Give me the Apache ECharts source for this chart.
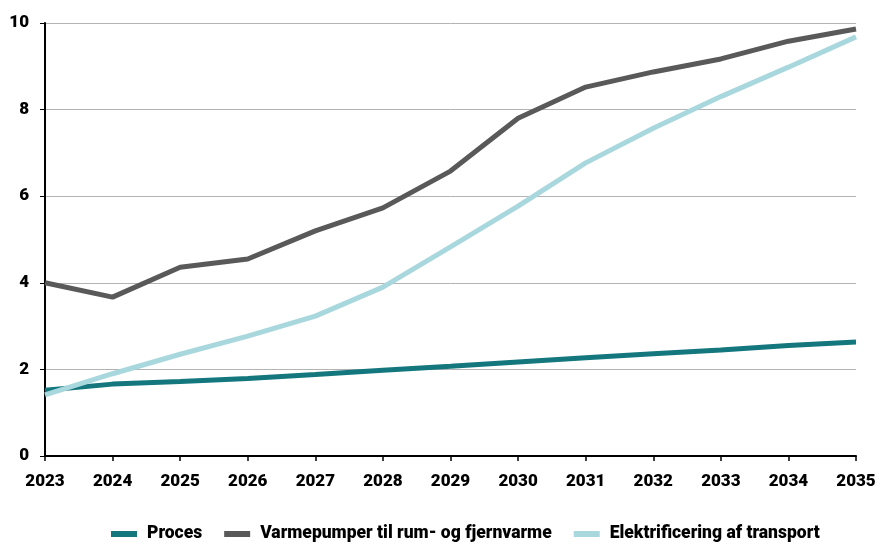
<!DOCTYPE html>
<html><head><meta charset="utf-8">
<script src="https://cdn.jsdelivr.net/npm/echarts@6/dist/echarts.min.js"></script>
<style>html,body{margin:0;padding:0;background:#fff}#c{width:879px;height:542px}</style>
</head><body><div id="c"></div>
<script>
const years = ['2023','2024','2025','2026','2027','2028','2029','2030','2031','2032','2033','2034','2035'];
const proces = [1.52,1.66,1.72,1.79,1.88,1.98,2.07,2.17,2.27,2.36,2.45,2.55,2.63];
const varmepumper = [4.0,3.67,4.36,4.55,5.2,5.73,6.58,7.8,8.52,8.87,9.17,9.58,9.86];
const transport = [1.41,1.9,2.35,2.77,3.23,3.9,4.83,5.77,6.77,7.57,8.3,8.98,9.68];
const names = ['Proces','Varmepumper til rum- og fjernvarme','Elektrificering af transport'];
const colors = ['#13777d','#595959','#a8d8dd'];
const font = 'Roboto, "Liberation Sans", sans-serif';
const chart = echarts.init(document.getElementById('c'));
const mk = (i, data, z) => ({name:names[i], type:'line', data, symbol:'none', z,
  lineStyle:{width:5, color:colors[i]}, itemStyle:{color:colors[i]}});
chart.setOption({
  animation:false,
  textStyle:{fontFamily:font},
  grid:{left:45,right:23,top:23,bottom:86},
  legend:{top:520,left:111,itemWidth:26,itemHeight:6,itemGap:22,icon:'rect',padding:[5,0,5,0],
    textStyle:{fontFamily:font,fontWeight:900,fontSize:17.5,color:'#000',letterSpacing:-0.5,padding:[0,0,0,5]}},
  xAxis:{type:'category',data:years,boundaryGap:false,
    axisLine:{lineStyle:{color:'#000',width:2}},
    axisTick:{lineStyle:{color:'#000',width:1.5},length:5},
    axisLabel:{color:'#000',fontWeight:900,fontSize:17,fontFamily:font,margin:17}},
  yAxis:{type:'value',min:0,max:10,interval:2,
    axisLine:{show:true,lineStyle:{color:'#000',width:2}},
    axisTick:{show:true,length:5,lineStyle:{color:'#000'}},
    splitLine:{lineStyle:{color:'#b3b3b3',width:1}},
    axisLabel:{color:'#000',fontWeight:900,fontSize:17,fontFamily:font,margin:16}},
  series:[mk(0,proces,3), mk(1,varmepumper,2), mk(2,transport,4)]
});
</script></body></html>
